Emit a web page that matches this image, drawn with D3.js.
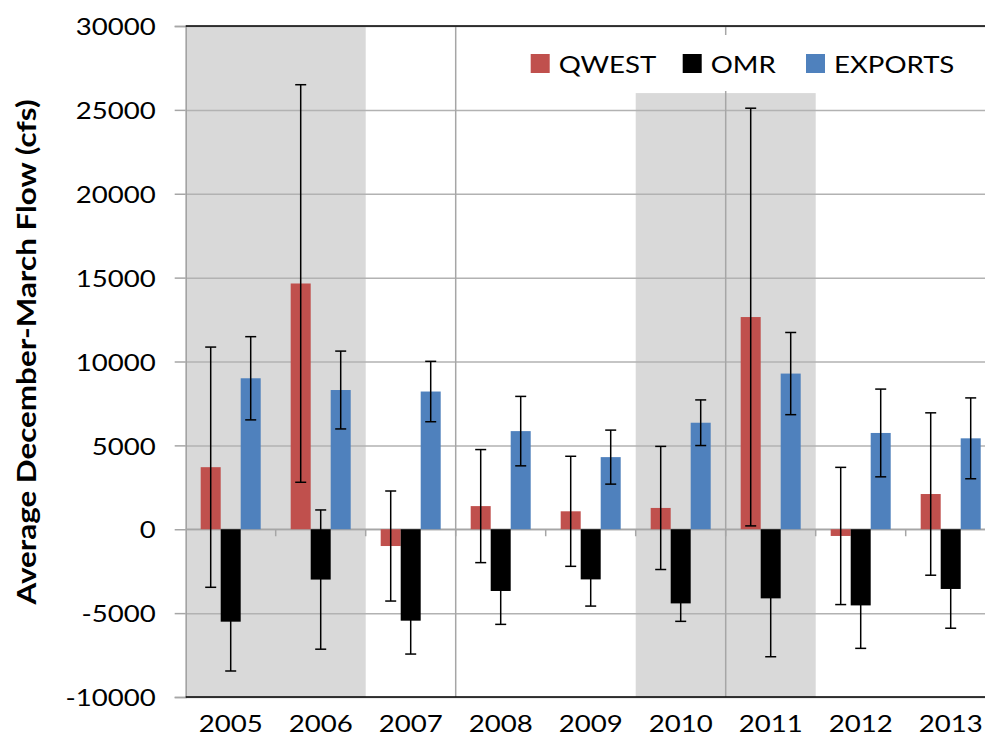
<!DOCTYPE html>
<html>
<head>
<meta charset="utf-8">
<script src="https://cdnjs.cloudflare.com/ajax/libs/d3/7.8.5/d3.min.js"></script>
<style>
  body { margin: 0; background: #fff; }
  text { font-family: Lato, "Open Sans", sans-serif; fill: #000; }
</style>
</head>
<body>
<div class="chart"></div>
<script>
// Chart data
var years = ["2005", "2006", "2007", "2008", "2009", "2010", "2011", "2012", "2013"];
var seriesNames = ["QWEST", "OMR", "EXPORTS"];
var qwest = [3700, 14650, -1000, 1380, 1070, 1270, 12650, -400, 2100];
var qwestErr = [7160, 11850, 3280, 3370, 3280, 3670, 12450, 4090, 4840];
var omr = [-5510, -3000, -5450, -3680, -2990, -4420, -4120, -4540, -3560];
var omrErr = [2940, 4150, 1990, 1990, 1590, 1070, 3480, 2560, 2340];
var exportsFlow = [9000, 8300, 8210, 5850, 4300, 6350, 9280, 5740, 5420];
var exportsErr = [2480, 2320, 1800, 2070, 1610, 1360, 2450, 2615, 2410];
var yTicks = [-10000, -5000, 0, 5000, 10000, 15000, 20000, 25000, 30000];
// shaded year groups and how high each shade reaches
var shadeStart = ["2005", "2010"];
var shadeEnd = ["2006", "2011"];
var shadeTop = [30000, 26000];
// years that get a vertical gridline on their left edge
var splitYears = ["2008", "2011"];

var colors = { QWEST: "#c0504d", OMR: "#000000", EXPORTS: "#4f81bd" };

// text in the original is a bit wider than tall
var stretch = 1.15;

var svgWidth = 985;
var svgHeight = 738;
var margin = { top: 26, left: 185.7, bottom: 41 };
var plotRight = 995.7;
var height = svgHeight - margin.top - margin.bottom;

var svg = d3.select(".chart")
  .append("svg")
  .attr("width", svgWidth)
  .attr("height", svgHeight);

var chart = svg.append("g")
  .attr("transform", "translate(" + margin.left + "," + margin.top + ")");
var width = plotRight - margin.left;

var x = d3.scaleBand().domain(years).range([0, width]);
var xInner = d3.scaleBand().domain(seriesNames).range([15, 75]);
var y = d3.scaleLinear().domain([-10000, 30000]).range([height, 0]);

// table built from the arrays
var rows = years.map(function(yr, i) {
  return {
    year: yr,
    bars: [
      { name: "QWEST", value: qwest[i], err: qwestErr[i] },
      { name: "OMR", value: omr[i], err: omrErr[i] },
      { name: "EXPORTS", value: exportsFlow[i], err: exportsErr[i] }
    ]
  };
});
var shades = shadeStart.map(function(s, i) {
  return { start: s, end: shadeEnd[i], top: shadeTop[i] };
});

// grey shaded years
chart.selectAll(".shade")
  .data(shades)
  .enter()
  .append("rect")
  .attr("class", "shade")
  .attr("x", function(d) { return x(d.start); })
  .attr("width", function(d) { return x(d.end) + x.bandwidth() - x(d.start); })
  .attr("y", function(d) { return y(d.top); })
  .attr("height", function(d) { return height - y(d.top); })
  .attr("fill", "#d9d9d9");

// horizontal gridlines
chart.append("g")
  .call(d3.axisLeft(y).tickValues(yTicks).tickSize(-width).tickFormat(""))
  .call(function(g) {
    g.select(".domain").remove();
    g.selectAll("line").attr("stroke", "#b2b2b2").attr("stroke-width", 1.5);
  });

// vertical gridlines
chart.selectAll(".vgrid")
  .data(splitYears)
  .enter()
  .append("line")
  .attr("class", "vgrid")
  .attr("x1", function(d) { return x(d); })
  .attr("x2", function(d) { return x(d); })
  .attr("y1", 0)
  .attr("y2", height)
  .attr("stroke", "#a6a6a6")
  .attr("stroke-width", 1.5);

// left axis with outside ticks and stretched labels
chart.append("g")
  .call(d3.axisLeft(y).tickValues(yTicks).tickSize(11).tickFormat(function(d) { return String(d); }))
  .call(function(g) {
    g.select(".domain").attr("stroke", "#a0a0a0").attr("stroke-width", 1.5);
    g.selectAll(".tick line").attr("stroke", "#a6a6a6").attr("stroke-width", 1.5);
    g.selectAll(".tick text")
      .attr("x", -30 / stretch)
      .attr("dy", "0.36em")
      .attr("transform", "scale(" + stretch + ",1)")
      .style("font-size", "24px")
      .style("font-family", "Lato, sans-serif")
      .attr("fill", "#000");
  });

// zero line with small ticks at the year boundaries
chart.append("line")
  .attr("x1", 0)
  .attr("x2", width)
  .attr("y1", y(0))
  .attr("y2", y(0))
  .attr("stroke", "#a6a6a6")
  .attr("stroke-width", 1.5);

chart.selectAll(".ztick")
  .data(years.slice(1))
  .enter()
  .append("line")
  .attr("class", "ztick")
  .attr("x1", function(d) { return x(d); })
  .attr("x2", function(d) { return x(d); })
  .attr("y1", y(0))
  .attr("y2", y(0) + 7)
  .attr("stroke", "#a6a6a6")
  .attr("stroke-width", 1.5);

// bars
var groups = chart.selectAll(".year")
  .data(rows)
  .enter()
  .append("g")
  .attr("class", "year")
  .attr("transform", function(d) { return "translate(" + x(d.year) + ",0)"; });

groups.selectAll("rect")
  .data(function(d) { return d.bars; })
  .enter()
  .append("rect")
  .attr("x", function(d) { return xInner(d.name); })
  .attr("width", xInner.bandwidth())
  .attr("y", function(d) { return y(Math.max(0, d.value)); })
  .attr("height", function(d) { return Math.abs(y(d.value) - y(0)); })
  .attr("fill", function(d) { return colors[d.name]; });

// error bars
var capHalf = 5.5;
var errs = groups.selectAll(".err")
  .data(function(d) { return d.bars; })
  .enter()
  .append("g")
  .attr("class", "err")
  .attr("stroke", "#000")
  .attr("stroke-width", 1.5);

errs.append("line")
  .attr("x1", function(d) { return xInner(d.name) + xInner.bandwidth() / 2; })
  .attr("x2", function(d) { return xInner(d.name) + xInner.bandwidth() / 2; })
  .attr("y1", function(d) { return y(d.value + d.err); })
  .attr("y2", function(d) { return y(d.value - d.err); });

errs.selectAll(".cap")
  .data(function(d) { return [d.value + d.err, d.value - d.err].map(function(v) { return { name: d.name, v: v }; }); })
  .enter()
  .append("line")
  .attr("class", "cap")
  .attr("x1", function(d) { return xInner(d.name) + xInner.bandwidth() / 2 - capHalf; })
  .attr("x2", function(d) { return xInner(d.name) + xInner.bandwidth() / 2 + capHalf; })
  .attr("y1", function(d) { return y(d.v); })
  .attr("y2", function(d) { return y(d.v); });

// top and bottom border lines
chart.append("line")
  .attr("x1", 0).attr("x2", width)
  .attr("y1", y(30000)).attr("y2", y(30000))
  .attr("stroke", "#000").attr("stroke-width", 1.5);
chart.append("line")
  .attr("x1", 0).attr("x2", width)
  .attr("y1", y(-10000)).attr("y2", y(-10000))
  .attr("stroke", "#000").attr("stroke-width", 1.5);

// year labels
chart.selectAll(".xlabel")
  .data(years)
  .enter()
  .append("text")
  .attr("class", "xlabel")
  .attr("transform", function(d) {
    return "translate(" + (x(d) + x.bandwidth() / 2) + "," + (height + 35) + ") scale(" + stretch + ",1)";
  })
  .attr("text-anchor", "middle")
  .style("font-size", "24px")
  .text(function(d) { return d; });

// y axis title
svg.append("text")
  .attr("transform", "translate(36,352) scale(" + stretch + ",1) rotate(-90)")
  .attr("text-anchor", "middle")
  .attr("textLength", 505)
  .attr("lengthAdjust", "spacingAndGlyphs")
  .style("font-size", "23.5px")
  .style("font-weight", "bold")
  .text("Average December-March Flow (cfs)");

// legend, white box covers the grid behind it
var legend = svg.append("g");
legend.append("rect")
  .attr("x", 518)
  .attr("y", 35)
  .attr("width", 470)
  .attr("height", 56)
  .attr("fill", "#fff");

var legendX = [530.7, 682.7, 806];
var item = legend.selectAll(".item")
  .data(seriesNames)
  .enter()
  .append("g")
  .attr("class", "item")
  .attr("transform", function(d, i) { return "translate(" + legendX[i] + ",54)"; });

item.append("rect")
  .attr("width", 19)
  .attr("height", 19)
  .attr("fill", function(d) { return colors[d]; });

item.append("text")
  .attr("transform", "translate(28,18.5) scale(" + stretch + ",1)")
  .style("font-size", "24px")
  .text(function(d) { return d; });
</script>
</body>
</html>
